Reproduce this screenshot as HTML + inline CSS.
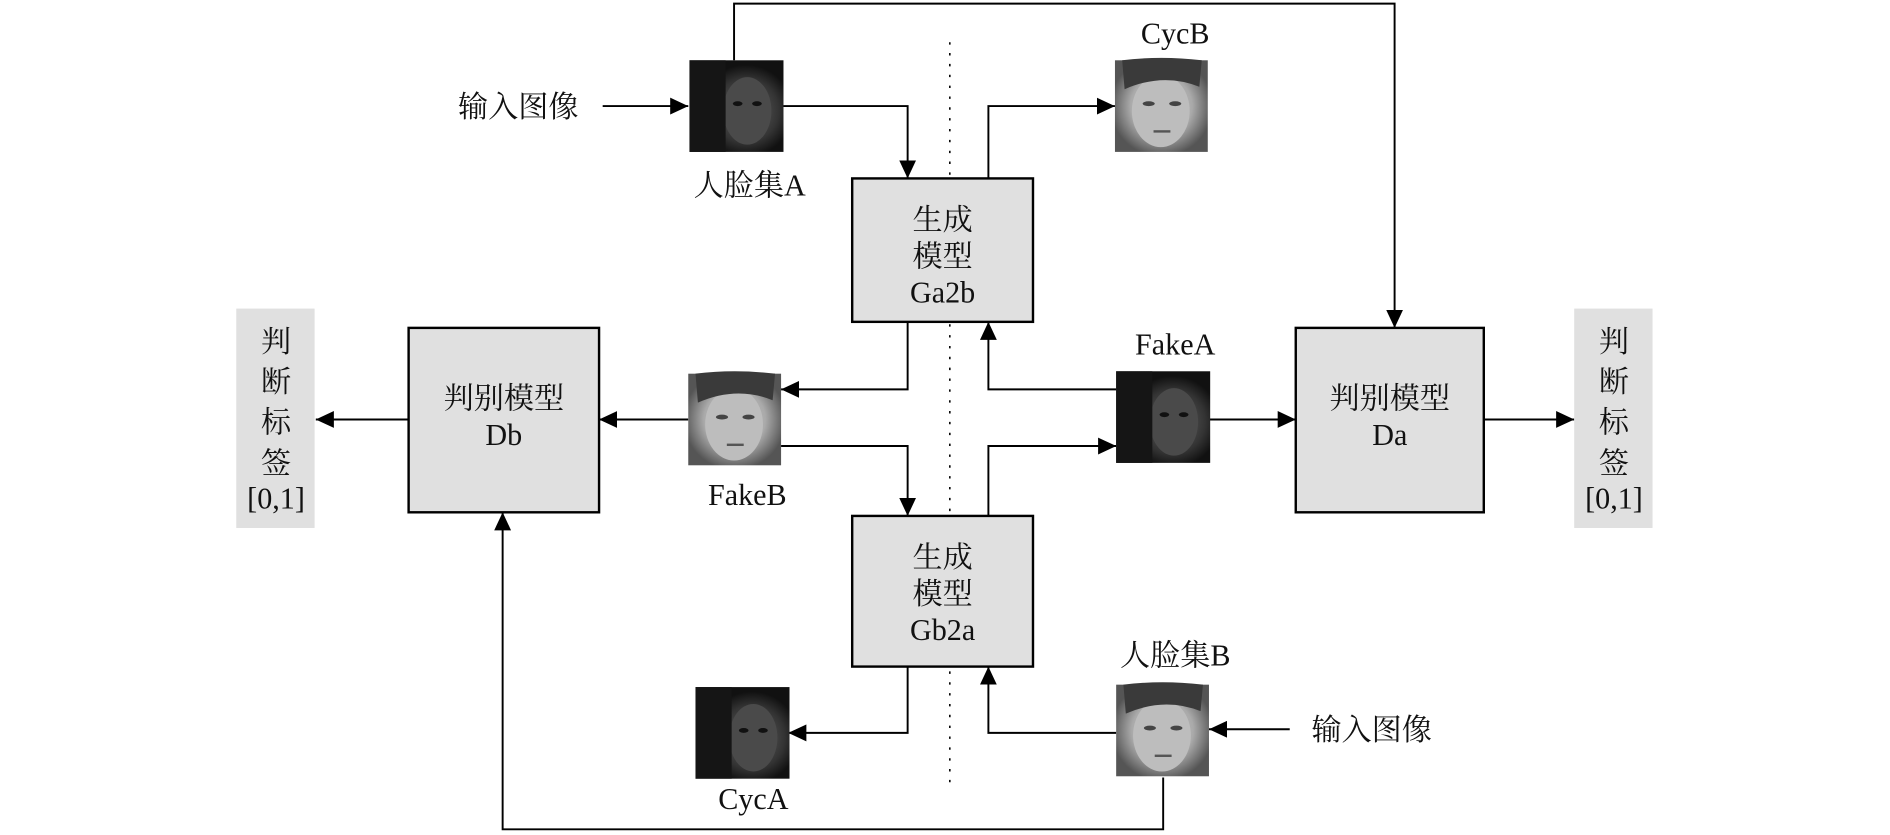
<!DOCTYPE html>
<html><head><meta charset="utf-8"><style>
html,body{margin:0;padding:0;background:#fff;}
svg{display:block;}
text{font-family:"Liberation Serif","Noto Serif CJK SC",serif;fill:#111;}
</style></head><body>
<svg width="1890" height="835" viewBox="0 0 1568 692.7" xmlns="http://www.w3.org/2000/svg">
<defs>
<marker id="a" markerWidth="15" markerHeight="14" refX="15" refY="7" orient="auto" markerUnits="userSpaceOnUse">
<path d="M0,0 L15,7 L0,14 z" fill="#000"/></marker>
<radialGradient id="lf" cx="50%" cy="50%" r="55%"><stop offset="0" stop-color="#c8c8c8"/><stop offset="0.6" stop-color="#aaa"/><stop offset="1" stop-color="#555"/></radialGradient>
<radialGradient id="df" cx="60%" cy="55%" r="50%"><stop offset="0" stop-color="#666"/><stop offset="0.7" stop-color="#333"/><stop offset="1" stop-color="#111"/></radialGradient>
<g id="light"><rect width="77" height="76" fill="url(#lf)"/><ellipse cx="38" cy="42" rx="24" ry="30" fill="#bdbdbd"/><path d="M6,0 Q38,-4 72,0 L70,22 Q40,10 8,24 z" fill="#3a3a3a"/><ellipse cx="28" cy="36" rx="5" ry="2" fill="#444"/><ellipse cx="50" cy="36" rx="5" ry="2" fill="#444"/><rect x="32" y="58" width="14" height="2" fill="#555"/></g>
<g id="dark"><rect width="78" height="76" fill="url(#df)"/><ellipse cx="48" cy="42" rx="20" ry="28" fill="#4a4a4a"/><ellipse cx="40" cy="36" rx="4" ry="2" fill="#111"/><ellipse cx="56" cy="36" rx="4" ry="2" fill="#111"/><rect x="0" y="0" width="30" height="76" fill="#151515"/></g>
</defs>
<g stroke="#000" stroke-width="1.6" fill="none">
<line x1="788" y1="35" x2="788" y2="655" stroke-dasharray="2,7" stroke-width="1.3"/>
<polyline points="609,50 609,3 1157,3 1157,272" marker-end="url(#a)"/>
<line x1="500" y1="88" x2="571" y2="88" marker-end="url(#a)"/>
<polyline points="650,88 753,88 753,148" marker-end="url(#a)"/>
<polyline points="820,148 820,88 925,88" marker-end="url(#a)"/>
<polyline points="753,267 753,323 648,323" marker-end="url(#a)"/>
<line x1="571" y1="348" x2="497" y2="348" marker-end="url(#a)"/>
<line x1="339" y1="348" x2="262" y2="348" marker-end="url(#a)"/>
<polyline points="926,323 820,323 820,267" marker-end="url(#a)"/>
<line x1="1003" y1="348" x2="1075" y2="348" marker-end="url(#a)"/>
<line x1="1231" y1="348" x2="1306" y2="348" marker-end="url(#a)"/>
<polyline points="648,370 753,370 753,428" marker-end="url(#a)"/>
<polyline points="820,428 820,370 926,370" marker-end="url(#a)"/>
<polyline points="753,553 753,608 654,608" marker-end="url(#a)"/>
<polyline points="926,608 820,608 820,553" marker-end="url(#a)"/>
<line x1="1070" y1="605" x2="1003" y2="605" marker-end="url(#a)"/>
<polyline points="965,645 965,688 417,688 417,425" marker-end="url(#a)"/>
</g>
<g fill="#e0e0e0" stroke="#000" stroke-width="2">
<rect x="707" y="148" width="150" height="119"/>
<rect x="707" y="428" width="150" height="125"/>
<rect x="339" y="272" width="158" height="153"/>
<rect x="1075" y="272" width="156" height="153"/>
</g>
<rect x="196" y="256" width="65" height="182" fill="#e0e0e0"/>
<rect x="1306" y="256" width="65" height="182" fill="#e0e0e0"/>
<use href="#dark" x="572" y="50"/>
<use href="#light" x="925" y="50"/>
<use href="#light" x="571" y="310"/>
<use href="#dark" x="926" y="308"/>
<use href="#dark" x="577" y="570"/>
<use href="#light" x="926" y="568"/>
<g font-size="25" text-anchor="middle">
<text x="430" y="97">输入图像</text>
<text x="1138" y="614">输入图像</text>
<text x="622" y="162">人脸集A</text>
<text x="975" y="552">人脸集B</text>
<text x="975" y="36">CycB</text>
<text x="975" y="294">FakeA</text>
<text x="620" y="419">FakeB</text>
<text x="625" y="671">CycA</text>
<text x="782" y="191">生成</text><text x="782" y="221">模型</text><text x="782" y="251">Ga2b</text>
<text x="782" y="471">生成</text><text x="782" y="501">模型</text><text x="782" y="531">Gb2a</text>
<text x="418" y="339">判别模型</text><text x="418" y="369">Db</text>
<text x="1153" y="339">判别模型</text><text x="1153" y="369">Da</text>
<text x="229" y="292">判</text><text x="229" y="325">断</text><text x="229" y="359">标</text><text x="229" y="393">签</text><text x="229" y="422">[0,1]</text>
<text x="1339" y="292">判</text><text x="1339" y="325">断</text><text x="1339" y="359">标</text><text x="1339" y="393">签</text><text x="1339" y="422">[0,1]</text>
</g>
</svg>
</body></html>
